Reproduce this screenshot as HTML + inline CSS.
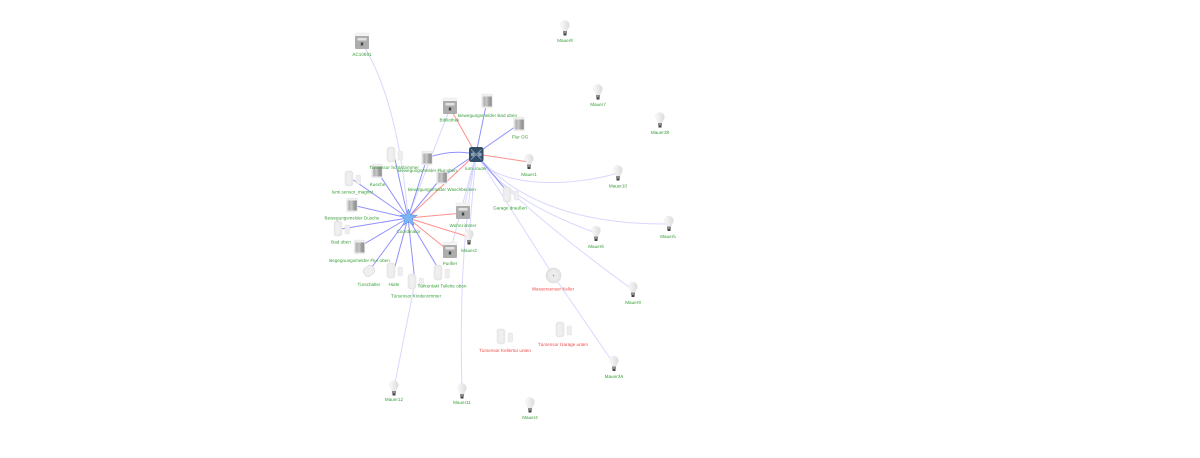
<!DOCTYPE html>
<html><head><meta charset="utf-8"><style>
html,body{margin:0;padding:0;background:#fff;width:1200px;height:458px;overflow:hidden}
svg{display:block}
text{font-family:"Liberation Sans",sans-serif;font-size:4.600px;text-anchor:middle;fill:#3a9f3a;text-rendering:geometricPrecision}
text.r{fill:#f04a4a}
.b{stroke:#9090ff;stroke-width:1;fill:none}
.r2{stroke:#ff9090;stroke-width:1;fill:none}
.l{stroke:#d8d8ff;stroke-width:1;fill:none}
</style></head><body>
<svg width="1200" height="458" viewBox="0 0 1200 458" xmlns="http://www.w3.org/2000/svg">
<defs>
<linearGradient id="cy" x1="0" x2="1" y1="0" y2="0"><stop offset="0" stop-color="#e4e4e4"/><stop offset=".2" stop-color="#b0b0b0"/><stop offset=".45" stop-color="#c8c8c8"/><stop offset=".7" stop-color="#a0a0a0"/><stop offset="1" stop-color="#8e8e8e"/></linearGradient>
<linearGradient id="bl" x1="0" x2="1" y1="0" y2="0"><stop offset="0" stop-color="#fafafa"/><stop offset="1" stop-color="#dcdcdc"/></linearGradient>
<symbol id="bulb" overflow="visible"><path d="M-4.500-3a4.500 4.500 0 0 1 9 0c0 2.500-2 3.500-2.300 6h-4.400C-2-.5-4.500-.5-4.500-3z" fill="url(#bl)" stroke="#e4e4e4" stroke-width=".4"/><rect x="-2" y="3" width="4" height="2.500" fill="#8c8c8c"/><rect x="-1.500" y="5.500" width="3" height="2" fill="#444"/></symbol>
<symbol id="cyl" overflow="visible"><rect x="-5.500" y="-7" width="11" height="14" rx="1.500" fill="#efefef" stroke="#e4e4e4" stroke-width=".4"/><rect x="-4.800" y="-4.500" width="9.600" height="10" fill="url(#cy)"/></symbol>
<symbol id="door" overflow="visible"><rect x="-7" y="-8" width="8" height="15" rx="2.500" fill="#e9e9e9" stroke="#e2e2e2" stroke-width=".5"/><rect x="-5.500" y="-6.500" width="4.500" height="12" rx="1.500" fill="#efefef"/><rect x="4" y="-4" width="4.500" height="9" rx="1" fill="#eeeeee" stroke="#e2e2e2" stroke-width=".5"/></symbol>
<symbol id="plug" overflow="visible"><rect x="-7" y="-10" width="14" height="4" rx="1" fill="#f4f4f4" stroke="#e0e0e0" stroke-width=".4"/><rect x="-7" y="-7" width="14" height="13" rx="1" fill="#adadad"/><rect x="-4.500" y="-5" width="9" height="2.500" fill="#e2e2e2"/><rect x="-1.200" y="-.5" width="2.400" height="3" fill="#444"/></symbol>
</defs>

<g class="l">
<path d="M362 43Q398 100 408 217"/>
<path d="M450 108L408 217"/>
<path d="M415 282L394 388"/>
<path d="M476 154Q458 250 462 391"/>
<path d="M476 154L463 213"/>
<path d="M476 154L469 237"/>
<path d="M476 154L450 252"/>
<path d="M476 154C490 185 560 190 618 173"/>
<path d="M476 154Q535 225 669 224"/>
<path d="M476 154Q505 200 596 233"/>
<path d="M476 154Q510 200 633 290"/>
<path d="M476 154L553 275L614 364"/>
</g>
<g class="b">
<path d="M408 218L394 155M408 218L377 171M408 218L352 179M408 218L352 205M408 218L341 229M408 218L359 247M408 218L369 271M408 218L394 270M408 218L415 282M408 218L441 273M408 218L427 158M408 218L442 177"/>
<path d="M476 154L487 101M476 154L519 124M476 154L442 177M476 154L510 195"/>
<path d="M427 158Q450 149 476 154"/>
</g>
<g class="r2">
<path d="M408 218L476 154M408 218L463 213M408 218L450 252M408 218L469 237"/>
<path d="M476 154L450 108M476 154L529 162"/>
</g>

<use href="#plug" x="362" y="43"/>
<use href="#bulb" x="565" y="28"/><use href="#bulb" x="598" y="92"/><use href="#bulb" x="660" y="120"/><use href="#bulb" x="618" y="173"/><use href="#bulb" x="529" y="161.500"/><use href="#bulb" x="669" y="223.500"/><use href="#bulb" x="596" y="233.500"/><use href="#bulb" x="633" y="289.500"/><use href="#bulb" x="614" y="363.500"/><use href="#bulb" x="530" y="405"/><use href="#bulb" x="462" y="391"/><use href="#bulb" x="394" y="388"/><use href="#bulb" x="469" y="237"/>
<use href="#plug" x="450" y="108"/><use href="#plug" x="463" y="213"/><use href="#plug" x="450" y="252"/>
<use href="#cyl" x="487" y="101"/><use href="#cyl" x="519" y="124"/><use href="#cyl" x="442" y="177"/><use href="#cyl" x="427" y="158"/><use href="#cyl" x="377" y="171"/><use href="#cyl" x="352" y="205"/><use href="#cyl" x="359.500" y="247"/>
<use href="#door" x="510" y="195"/><use href="#door" x="504" y="337"/><use href="#door" x="563" y="330"/><use href="#door" x="394" y="155"/><use href="#door" x="352" y="179"/><use href="#door" x="341" y="229"/><use href="#door" x="394" y="271"/><use href="#door" x="441" y="273"/><use href="#door" x="415" y="282"/>

<circle cx="553.500" cy="275.500" r="7.500" fill="#e6e6e6" stroke="#d8d8d8" stroke-width=".6"/><circle cx="553.500" cy="275.500" r="5" fill="#ececec"/><circle cx="553.500" cy="275.500" r=".8" fill="#999"/>
<rect x="363.500" y="266.500" width="11" height="9" rx="3" fill="#efefef" stroke="#d4d4d4" stroke-width=".6" transform="rotate(-35 369 271)"/>

<rect x="469" y="147" width="14.500" height="15" rx="2.500" fill="#2f4d68"/>
<path d="M471 149.500L481.500 159.500M481.500 149.500L471 159.500" stroke="#7f96aa" stroke-width="1"/><circle cx="472.800" cy="154.500" r="2" fill="#8ba0b2"/><circle cx="479.800" cy="154.500" r="2" fill="#8ba0b2"/>
<path d="M408.500 209L410.700 215L417.200 215.200L412.100 219.200L413.900 225.500L408.500 221.900L403.100 225.500L404.900 219.200L399.800 215.200L406.300 215Z" fill="#7ab6f5" stroke="#4c86d8" stroke-width=".5"/>

<text x="362" y="56">AC10691</text>
<text x="565" y="42">Mauer8</text><text x="598" y="106">Mauer7</text><text x="660" y="134">Mauer38</text><text x="618" y="187.500">Mauer10</text><text x="529" y="176">Mauer1</text><text x="668" y="238">Mauer5</text><text x="596" y="248">Mauer6</text><text x="633" y="304">Mauer9</text><text x="614" y="378">Mauer3A</text><text x="530" y="419">Mauer4</text><text x="462" y="404">Mauer11</text><text x="394" y="401">Mauer12</text><text x="469" y="252">Mauer2</text>
<text x="449.500" y="121.500">Bibliothek</text><text x="487.500" y="117">Bewegungsmelder Bad oben</text><text x="520" y="138.500">Flur OG</text>
<text x="476" y="170">lumi.router</text><text x="510" y="209.500">Garage draußen</text><text x="463" y="227">Wohnzimmer</text><text x="450" y="265">Purifier</text>
<text x="442" y="191">Bewegungsmelder Waschbecken</text><text x="427.500" y="172">Bewegungsmelder Flur oben</text>
<text x="394" y="169">Türsensor Schlafzimmer</text><text x="377.500" y="186">Kueche</text><text x="352.500" y="193.500">lumi.sensor_magnet</text><text x="352" y="219.500">Bewegungsmelder Dusche</text><text x="341" y="243.500">Bad oben</text><text x="359.500" y="262">Begegnungsmelder Flur oben</text>
<text x="408.500" y="233">Coordinator</text>
<text x="369" y="286">Türschalter</text><text x="394" y="286">Hütte</text><text x="442" y="287.500">Türkontakt Toilette oben</text><text x="416" y="297.500">Türsensor Kinderzimmer</text>
<text class="r" x="553" y="290.500">Wassersensor Keller</text><text class="r" x="505" y="352">Türsensor Kellertür unten</text><text class="r" x="563" y="346">Türsensor Garage unten</text>
</svg>
</body></html>
